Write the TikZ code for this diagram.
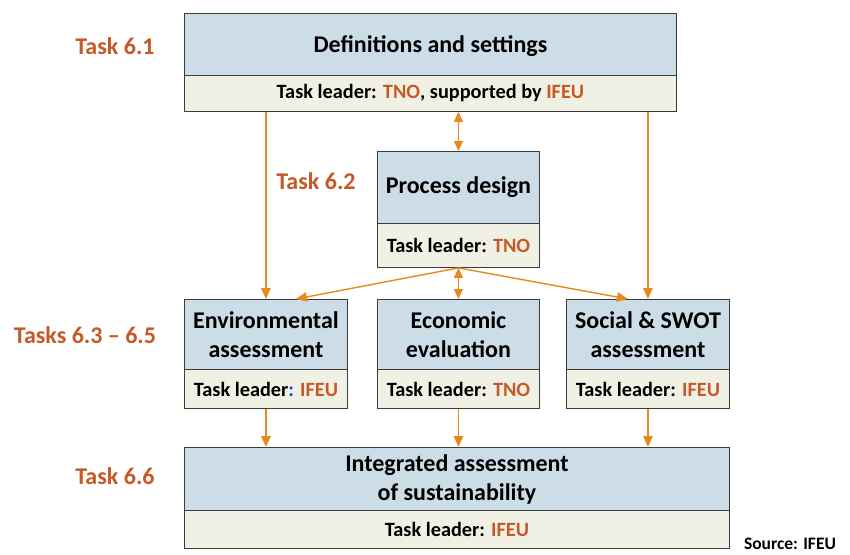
\documentclass[tikz,border=0pt]{standalone}
\usepackage{fontspec}
\setmainfont{Carlito}
\usetikzlibrary{arrows.meta,calc}
\definecolor{boxblue}{HTML}{CCDDE8}
\definecolor{boxbeige}{HTML}{F1F0E5}
\definecolor{edgegray}{HTML}{3C3C3C}
\definecolor{arrorange}{HTML}{E8891E}
\definecolor{txtorange}{HTML}{C55A28}
\definecolor{colonblue}{HTML}{1F3FBF}
\begin{document}
\begin{tikzpicture}[x=1pt,y=-1pt,
  upper/.style={draw=edgegray,fill=boxblue,line width=0.9pt,anchor=north west,inner sep=0pt,align=center,
    font=\fontsize{24}{29}\selectfont\bfseries},
  lower/.style={draw=edgegray,fill=boxbeige,line width=0.9pt,anchor=north west,inner sep=0pt,align=center,
    font=\fontsize{20.3}{24}\selectfont\bfseries},
  tasklbl/.style={text=txtorange,font=\fontsize{24}{28}\selectfont\bfseries},
  arr/.style={draw=arrorange,line width=1.4pt,-{Triangle[length=11pt,width=9.5pt]}},
  darr/.style={draw=arrorange,line width=1.4pt,{Triangle[length=10pt,width=9pt]}-{Triangle[length=10pt,width=9pt]}}
]
\useasboundingbox (0,0) rectangle (850,554);
\newcommand{\org}[1]{\textcolor{txtorange}{#1}}
% top box
\node[upper,minimum width=492pt,minimum height=62pt,text depth=0pt] (t1) at (184,13) {Definitions and settings};
\node[lower,minimum width=492pt,minimum height=36pt] (t1b) at (184,75) {Task leader: \org{TNO}, supported by \org{IFEU}};
% process design
\node[upper,minimum width=162pt,minimum height=72pt] (pd) at (377,151) {Process design};
\node[lower,minimum width=162pt,minimum height=44pt] (pdb) at (377,223) {Task leader: \org{TNO}};
% middle row
\node[upper,minimum width=163pt,minimum height=70pt] (env) at (184,299) {Environmental\\assessment};
\node[lower,minimum width=163pt,minimum height=39pt] (envb) at (184,369) {Task leader\textcolor{colonblue}{:} \org{IFEU}};
\node[upper,minimum width=162pt,minimum height=70pt] (eco) at (377,299) {Economic\\evaluation};
\node[lower,minimum width=162pt,minimum height=39pt] (ecob) at (377,369) {Task leader: \org{TNO}};
\node[upper,minimum width=163pt,minimum height=70pt] (soc) at (566,299) {Social \& SWOT\\assessment};
\node[lower,minimum width=163pt,minimum height=39pt] (socb) at (566,369) {Task leader: \org{IFEU}};
% integrated
\node[upper,minimum width=545pt,minimum height=63pt,text depth=2pt] (int) at (184,447) {Integrated assessment\\of sustainability};
\node[lower,minimum width=545pt,minimum height=38pt] (intb) at (184,510) {Task leader: \org{IFEU}};
% labels
\node[tasklbl] (l1) at (115,46) {Task 6.1};
\node[tasklbl] (l2) at (316,181) {Task 6.2};
\node[tasklbl] (l3) at (85,335) {Tasks 6.3 -- 6.5};
\node[tasklbl] (l4) at (115,476) {Task 6.6};
\node[font=\fontsize{17.5}{20}\selectfont\bfseries] (src) at (790,544) {Source: IFEU};
% connectors
\draw[arr] (t1b.south -| env.north) -- (env.north);
\draw[arr] (t1b.south -| soc.north) -- (soc.north);
\draw[darr] (t1b.south -| pd.north) -- (pd.north);
\draw[arr] (pdb.south) -- ([xshift=30pt]env.north);
\draw[arr] (pdb.south) -- ([xshift=-20pt]soc.north);
\draw[darr] (pdb.south) -- (eco.north);
\draw[arr] (envb.south) -- (envb.south |- int.north);
\draw[arr] (ecob.south) -- (ecob.south |- int.north);
\draw[arr] (socb.south) -- (socb.south |- int.north);
\end{tikzpicture}
\end{document}
